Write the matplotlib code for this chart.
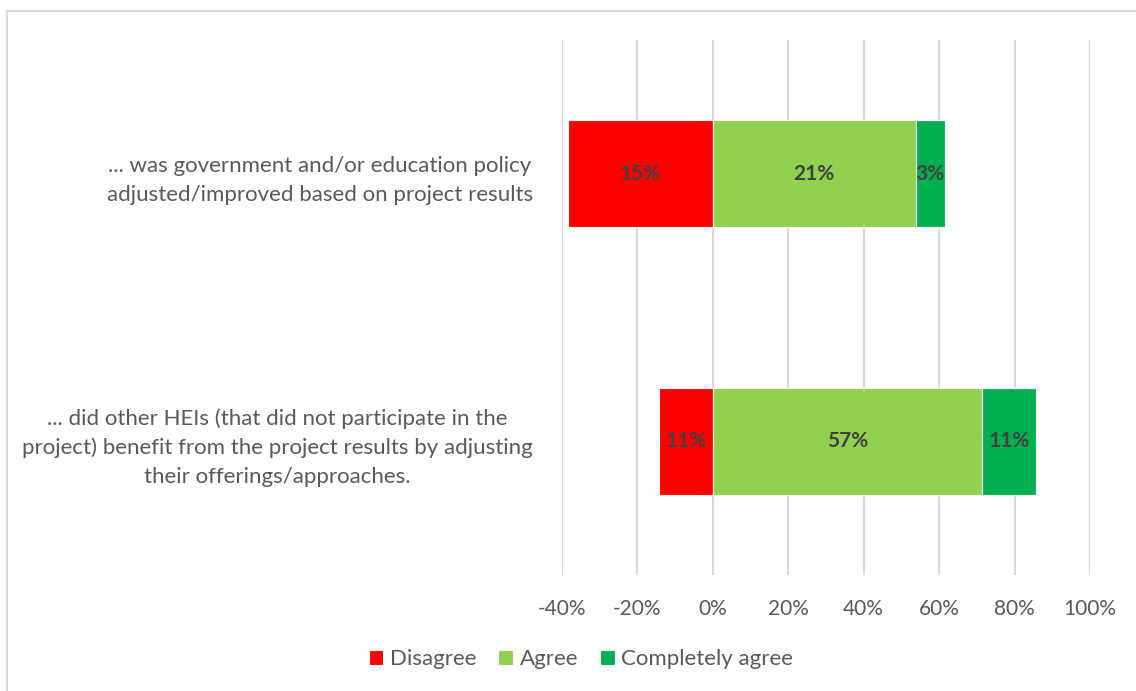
import matplotlib.pyplot as plt
from matplotlib.patches import Rectangle

categorias = [
    "... was government and/or education policy\nadjusted/improved based on project results",
    "... did other HEIs (that did not participate in the\nproject) benefit from the project results by adjusting\ntheir offerings/approaches.",
]
desacuerdo = [-38.5, -14.3]
acuerdo = [53.8, 71.4]
total_acuerdo = [7.7, 14.3]
etiquetas_desacuerdo = ["15%", "11%"]
etiquetas_acuerdo = ["21%", "57%"]
etiquetas_total = ["3%", "11%"]
ticks_x = [-40, -20, 0, 20, 40, 60, 80, 100]

plt.rcParams['font.family'] = ['Lato', 'DejaVu Sans']
gris = "#595959"

fig = plt.figure(figsize=(11.36, 6.91), dpi=100)
ax = fig.add_axes([562 / 1136, 1 - 575 / 691, 528 / 1136, 535 / 691])

# marco del gráfico
fig.patches.append(Rectangle((7 / 1136, -0.01), 1.02, 1 - 11 / 691 + 0.01,
                             transform=fig.transFigure, fill=False,
                             edgecolor="#d9d9d9", linewidth=1.5))

y = list(range(len(categorias)))
alto = 0.4
b1 = ax.barh(y, desacuerdo, height=alto, color="#ff0000", edgecolor="white", linewidth=0.8, label="Disagree")
b2 = ax.barh(y, acuerdo, height=alto, color="#92d050", edgecolor="white", linewidth=0.8, label="Agree")
b3 = ax.barh(y, total_acuerdo, left=acuerdo, height=alto, color="#00b050", edgecolor="white", linewidth=0.8, label="Completely agree")

for barras, etiquetas in [(b1, etiquetas_desacuerdo), (b2, etiquetas_acuerdo), (b3, etiquetas_total)]:
    ax.bar_label(barras, labels=etiquetas, label_type="center", fontsize=15,
                 fontweight="bold", color="#404040")

ax.set_xlim(-40, 100)
ax.set_ylim(1.5, -0.5)
ax.set_xticks(ticks_x)
ax.set_xticklabels([f"{t}%" for t in ticks_x], color=gris, fontsize=15)
ax.set_yticks(y)
ax.set_yticklabels(categorias, color=gris, fontsize=16, ha="right",
                   multialignment="center", linespacing=1.55)

ax.grid(axis="x", color="#d9d9d9", linewidth=1.5)
ax.set_axisbelow(True)
for s in ax.spines.values():
    s.set_visible(False)
ax.tick_params(axis="y", length=0, pad=21)
ax.tick_params(axis="x", length=0, pad=17)

fig.legend(handles=[b1, b2, b3], loc="center", bbox_to_anchor=(581 / 1136, 1 - 659 / 691),
           ncol=3, frameon=False, fontsize=16, labelcolor=gris,
           handlelength=0.65, handleheight=0.65, handletextpad=0.3, columnspacing=1.0)

fig.savefig("out.png", dpi=100)
